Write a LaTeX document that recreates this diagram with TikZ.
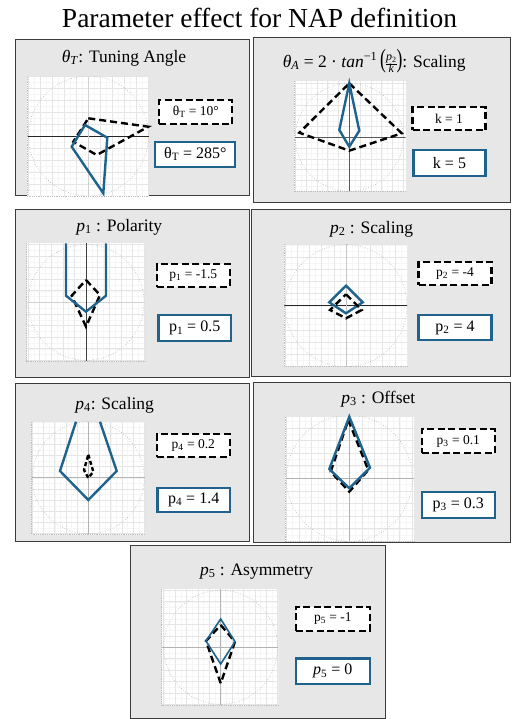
\RequirePackage{fix-cm}
\documentclass[tikz,border=0pt]{standalone}
\usepackage{graphicx}
\usepackage{fontspec}
\setmainfont{Liberation Serif}
\definecolor{nblue}{RGB}{31,99,140}
\definecolor{pbg}{RGB}{231,231,231}
\definecolor{pborder}{RGB}{60,60,60}
\newcommand\vi[1]{\textit{#1}}
\newcommand\myfrac[2]{{\fontsize{12}{12}\selectfont\renewcommand\arraystretch{0.85}\begin{tabular}{@{}c@{}}#1\\\hline #2\end{tabular}}}
\tikzset{
  panel/.style={fill=pbg, draw=pborder, line width=1pt},
  gridminor/.style={draw=gray!7, line width=0.4pt},
  gridmajor/.style={draw=gray!20, line width=0.5pt},
  circ/.style={draw=gray!60, dotted, line width=0.6pt},
  plotedge/.style={draw=gray!50, densely dotted, line width=0.8pt},
  dshape/.style={draw=black, line width=2.4pt, dash pattern=on 7pt off 4pt, line join=miter},
  bshape/.style={draw=nblue, line width=2.4pt, line join=miter},
  dlabel/.style={draw=black, fill=white, line width=2.2pt, dash pattern=on 7pt off 3.5pt, inner sep=0pt, font=\fontsize{13.5}{15}\selectfont},
  blabel/.style={draw=nblue, fill=white, line width=2.2pt, inner sep=0pt, font=\fontsize{16}{18}\selectfont},
  ptitle/.style={anchor=base, inner sep=0pt, font=\fontsize{17.5}{20}\selectfont},
  maintitle/.style={anchor=base, inner sep=0pt, font=\fontsize{27.5}{30}\selectfont}
}
\newcommand\plotarea[9]{%
  \fill[white] (#1,#2) rectangle (#3,#4);
  \begin{scope}
    \clip (#1,#2) rectangle (#3,#4);
    \foreach \k in {-14,...,14}{
      \draw[gridminor] ({#5+\k*#7/10},#2) -- ({#5+\k*#7/10},#4);
      \draw[gridminor] (#1,{#6+\k*#7/10}) -- (#3,{#6+\k*#7/10});
    }
    \foreach \k in {-7,...,7}{
      \draw[gridmajor] ({#5+\k*#7/5},#2) -- ({#5+\k*#7/5},#4);
      \draw[gridmajor] (#1,{#6+\k*#7/5}) -- (#3,{#6+\k*#7/5});
    }
    \draw[circ] (#5,#6) circle[radius=#7];
    \draw[draw=#8, line width=0.8pt] (#1,#6) -- (#3,#6);
    \draw[draw=#9, line width=0.8pt] (#5,#2) -- (#5,#4);
  \end{scope}
  \draw[plotedge] (#1,#2) -- (#1,#4) -- (#3,#4);
}
\begin{document}
\begin{tikzpicture}[x=1pt,y=-1pt]
\useasboundingbox[fill=white] (0,0) rectangle (511,719);
\node[maintitle] (title) at (259.5,27.5) {Parameter effect for NAP definition};

% ---------- Panel 1: theta_T
\draw[panel] (15,40) rectangle (249,196);
\node[ptitle] (t1) at (124,62.3) {\vi{θ}\textsubscript{\vi{T}}: Tuning Angle};
\plotarea{27}{77}{149}{196}{88.5}{136}{60}{black!85}{gray!35}
\draw[dshape] (88.3,118.3) -- (148.3,126.7) -- (96.7,155) -- (73.3,141.7) -- cycle;
\draw[bshape] (85,125) -- (107.3,137.7) -- (103.3,193.3) -- (71.7,146.7) -- cycle;
\node[dlabel, minimum width=73pt, minimum height=24pt] (l1d) at (195.8,112.2) {θ\textsubscript{T} = 10°};
\node[blabel, minimum width=80pt, minimum height=25pt] (l1b) at (195.3,154.2) {θ\textsubscript{T} = 285°};

% ---------- Panel 2: theta_A
\draw[panel] (253,38) rectangle (510,203);
\node[ptitle] (t2) at (374.2,67.3) {\vi{θ}\textsubscript{\vi{A}} = 2 · \vi{tan}\textsuperscript{−1}\,\scalebox{1}[1.5]{(}\myfrac{\vi{p}\textsubscript{2}}{\vi{k}}\scalebox{1}[1.5]{)}: Scaling};
\plotarea{294.3}{81}{405.7}{191.7}{349.3}{137.3}{54}{black!65}{black!65}
\draw[dshape] (349.3,83.3) -- (401.7,133.3) -- (349.3,150.7) -- (299.3,132.7) -- cycle;
\draw[bshape] (349.3,83.3) -- (359.3,130.7) -- (349.3,146.7) -- (339.3,130) -- cycle;
\node[dlabel, minimum width=73pt, minimum height=23pt] (l2d) at (449,118.7) {k = 1};
\node[blabel, minimum width=72pt, minimum height=26pt] (l2b) at (449.5,163) {k = 5};

% ---------- Panel 3: p1
\draw[panel] (15,210) rectangle (249,377);
\node[ptitle] (t3) at (119.3,231) {\vi{p}\textsubscript{1} : Polarity};
\plotarea{26.7}{243.3}{145}{361}{86}{302.3}{58}{gray!35}{black!75}
\draw[dshape] (86,280) -- (100,295) -- (86,326.7) -- (71.7,295.7) -- cycle;
\draw[bshape] (66,243.3) -- (66,295.7) -- (86,311.7) -- (106,295.7) -- (106,243.3);
\node[dlabel, minimum width=73pt, minimum height=22.5pt] (l3d) at (193.3,275.5) {p\textsubscript{1} = -1.5};
\node[blabel, minimum width=72.5pt, minimum height=26pt] (l3b) at (194.7,328) {p\textsubscript{1} = 0.5};

% ---------- Panel 4: p2
\draw[panel] (251,210) rectangle (510.5,376);
\node[ptitle] (t4) at (371.7,233.3) {\vi{p}\textsubscript{2} : Scaling};
\plotarea{284.3}{244.3}{407.3}{366.7}{346}{305.7}{61}{black!85}{gray!45}
\draw[bshape] (346,285.7) -- (362.7,302.3) -- (346,313.3) -- (329.3,302.3) -- cycle;
\draw[dshape] (346,294.3) -- (361.7,310) -- (346,318.3) -- (330,310) -- cycle;
\node[dlabel, minimum width=73pt, minimum height=23pt] (l4d) at (455,273.3) {p\textsubscript{2} = -4};
\node[blabel, minimum width=73pt, minimum height=25pt] (l4b) at (455,327.5) {p\textsubscript{2} = 4};

% ---------- Panel 5: p4
\draw[panel] (15,383) rectangle (249,541);
\node[ptitle] (t5) at (114.7,409) {\vi{p}\textsubscript{4}: Scaling};
\plotarea{31.7}{421.7}{145}{534.3}{88.3}{477.7}{56}{gray!60}{gray!60}
\draw[bshape] (76,421.7) -- (60,471) -- (88.3,500) -- (116.7,471) -- (100,421.7);
\draw[dshape, dash pattern=on 4pt off 2.5pt] (88.3,454.7) -- (93.3,471.7) -- (88.3,478) -- (84,470) -- cycle;
\node[dlabel, minimum width=73pt, minimum height=22.5pt] (l5d) at (193.3,445.5) {p\textsubscript{4} = 0.2};
\node[blabel, minimum width=72.5pt, minimum height=24.5pt] (l5b) at (193.7,500) {p\textsubscript{4} = 1.4};

% ---------- Panel 6: p3
\draw[panel] (253,382) rectangle (510,542);
\node[ptitle] (t6) at (378.3,403.3) {\vi{p}\textsubscript{3} : Offset};
\plotarea{285}{416.7}{414}{541.7}{349.3}{478.3}{63}{gray!60}{gray!60}
\draw[dshape] (348.3,420) -- (368.3,470) -- (349.3,491.7) -- (330.7,471.7) -- cycle;
\draw[bshape] (349.3,416.7) -- (370,467.7) -- (349.3,488.3) -- (329.3,469) -- cycle;
\node[dlabel, minimum width=73pt, minimum height=24pt] (l6d) at (458.3,441.3) {p\textsubscript{3} = 0.1};
\node[blabel, minimum width=73pt, minimum height=26pt] (l6b) at (458.3,504.7) {p\textsubscript{3} = 0.3};

% ---------- Panel 7: p5
\draw[panel] (130,545) rectangle (385,718.5);
\node[ptitle] (t7) at (256.7,575) {\vi{p}\textsubscript{5} : Asymmetry};
\plotarea{161.7}{589.3}{278.3}{705}{220.7}{647.3}{57}{gray!60}{gray!60}
\draw[dshape] (220.7,625) -- (235,641.7) -- (220.7,683.3) -- (206,641) -- cycle;
\draw[bshape, line width=1.6pt] (220.7,619) -- (235,641.7) -- (220.7,664) -- (206,641) -- cycle;
\node[dlabel, minimum width=74pt, minimum height=24pt] (l7d) at (332.8,618.7) {p\textsubscript{5} = -1};
\node[blabel, minimum width=74pt, minimum height=25.5pt] (l7b) at (332.8,671.2) {\vi{p}\textsubscript{5} = 0};
\end{tikzpicture}
\end{document}
